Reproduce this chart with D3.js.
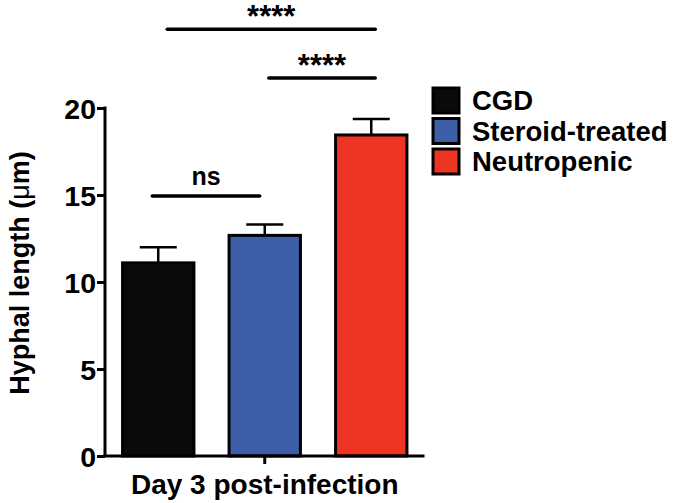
<!DOCTYPE html>
<html><head><meta charset="utf-8">
<script src="https://cdn.jsdelivr.net/npm/d3@7"></script>
<style>body{margin:0;background:#fff}svg{display:block;font-family:"Liberation Sans",Arial,sans-serif;font-weight:bold}</style>
</head><body>
<svg id="c" width="675" height="503"></svg>
<script>
const groups = ["Day 3 post-infection"];
const series = ["CGD", "Steroid-treated", "Neutropenic"];
const means = [11.1, 12.68, 18.45];
const sems = [0.9, 0.62, 0.92];
const colors = ["#0a0a0a", "#3d5ea8", "#ee3524"];
const yTicks = [0, 5, 10, 15, 20];
const comparisons = [
  {a: "CGD", b: "Steroid-treated", label: "ns", level: 14.94},
  {a: "Steroid-treated", b: "Neutropenic", label: "****", level: 21.72},
  {a: "CGD", b: "Neutropenic", label: "****", level: 24.52}
];

const svg = d3.select("#c");
const y = d3.scaleLinear().domain([0, 20]).range([456, 108]);
const x0 = d3.scaleBand().domain(groups).range([105, 424.5]);
const x = d3.scaleBand().domain(series).range([105, 424.5]).paddingInner(0.33).paddingOuter(0.165);
const cx = s => x(s) + x.bandwidth() / 2;

// bars
series.forEach((s, i) => {
  const c = cx(s);
  const top = y(means[i] + sems[i]);
  svg.append("line").attr("x1", c).attr("x2", c).attr("y1", y(means[i])).attr("y2", top)
    .attr("stroke", "#000").attr("stroke-width", 2.5);
  svg.append("line").attr("x1", c - 18.5).attr("x2", c + 18.5).attr("y1", top).attr("y2", top)
    .attr("stroke", "#000").attr("stroke-width", 2.5);
  svg.append("rect").attr("x", x(s)).attr("y", y(means[i])).attr("width", x.bandwidth()).attr("height", y(0) - y(means[i]))
    .attr("fill", colors[i]).attr("stroke", "#000").attr("stroke-width", 3);
});

// y axis
const ya = svg.append("g").attr("transform", "translate(105,0)")
  .call(d3.axisLeft(y).tickValues(yTicks).tickSize(8).tickPadding(1));
ya.select(".domain").attr("stroke-width", 3).attr("d", `M0,${y(20)-1.5}V${y(0)}`);
ya.selectAll(".tick line").attr("stroke-width", 3);
ya.selectAll(".tick text").attr("font-size", 28.5).attr("font-family", "Liberation Sans, Arial, sans-serif").attr("font-weight", "bold").attr("fill", "#000").attr("dy", "0.36em");

// x axis
const xa = svg.append("g").attr("transform", `translate(0,${y(0)})`)
  .call(d3.axisBottom(x0).tickSize(8).tickPadding(0));
xa.select(".domain").attr("stroke-width", 3).attr("d", `M103.5,0H424.5`);
xa.selectAll(".tick line").attr("stroke-width", 3);
xa.selectAll(".tick text").attr("font-size", 28).attr("font-family", "Liberation Sans, Arial, sans-serif").attr("font-weight", "bold").attr("fill", "#000").attr("dy", null).attr("y", 38);

// y label
svg.append("text").attr("transform", "translate(29,273) rotate(-90)").attr("text-anchor", "middle")
  .attr("font-size", 27).html('Hyphal length (<tspan font-weight="normal">μ</tspan>m)');

// significance
const offs = {"CGD|Steroid-treated": [-6, -5], "Steroid-treated|Neutropenic": [4, 4], "CGD|Neutropenic": [9, 4]};
comparisons.forEach(c => {
  const o = offs[c.a + "|" + c.b];
  const x1 = cx(c.a) + o[0], x2 = cx(c.b) + o[1];
  const yy = y(c.level);
  svg.append("line").attr("x1", x1).attr("x2", x2).attr("y1", yy).attr("y2", yy).attr("stroke", "#000").attr("stroke-width", 3.5).attr("stroke-linecap", "round");
  if (c.label === "ns") {
    svg.append("text").attr("x", (x1 + x2) / 2).attr("y", yy - 11).attr("text-anchor", "middle").attr("font-size", 25).text(c.label);
  } else {
    svg.append("text").attr("x", (x1 + x2) / 2).attr("y", yy - 2).attr("text-anchor", "middle").attr("font-size", 31).text(c.label);
  }
});

// legend
const lg = svg.append("g");
series.forEach((s, i) => {
  const yy = 88 + i * 30.5;
  lg.append("rect").attr("x", 433).attr("y", yy).attr("width", 26).attr("height", 25).attr("fill", colors[i]).attr("stroke", "#000").attr("stroke-width", 3);
  lg.append("text").attr("x", 472).attr("y", yy + 22).attr("font-size", 27.5).text(s);
});
</script>
</body></html>
